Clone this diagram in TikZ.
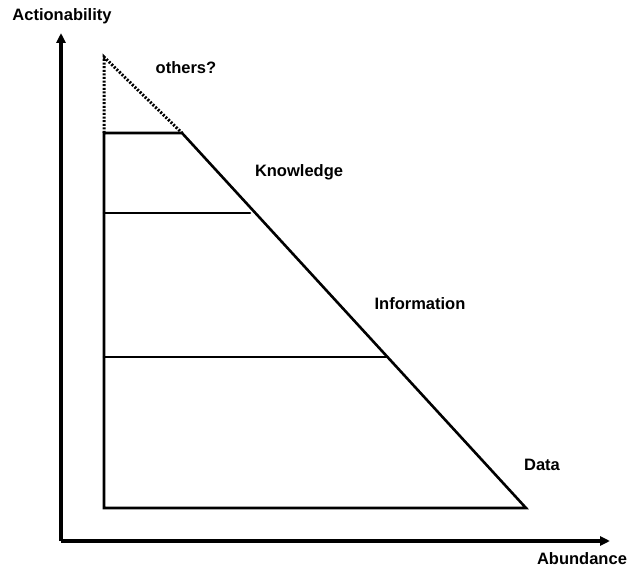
\documentclass[tikz,border=0pt]{standalone}
\usepackage{fontspec}
\setmainfont{Liberation Sans}
\usetikzlibrary{arrows.meta, positioning}

\begin{document}
\begin{tikzpicture}
  [x=1pt,y=-1pt,
   axis/.style={line width=3.6pt,-{Triangle[length=10pt,width=9pt]}},
   layer/.style={line width=2.6pt,line cap=round,line join=miter},
   guess/.style={line width=3pt,dash pattern=on 2pt off 1.6pt},
   tag/.style={font=\bfseries\fontsize{16.5}{16.5}\selectfont,inner sep=1pt}]
   \useasboundingbox (0,0) rectangle (627,569);
   % axes
   \coordinate (origin)  at (61,541);
   \coordinate (ytip)    at (61,33);
   \coordinate (xtip)    at (610,541);
   \draw[axis] (origin) -- (ytip);
   \draw[axis] (origin) -- (xtip);
   \node[tag] (actionability) at (62,16)  {Actionability};
   \node[tag] (abundance)     at (582,559) {Abundance};
   % pyramid corners
   \coordinate (apex)    at (104,57);
   \coordinate (topleft) at (104,133);
   \coordinate (topright) at (182,133);
   \coordinate (know)    at (104,213);
   \coordinate (knowend) at (250,213);
   \coordinate (info)    at (104,357);
   \coordinate (infoend) at (386,357);
   \coordinate (base)    at (104,508);
   \coordinate (baseend) at (526,508);
   \draw[layer] (topleft) -- (topright) -- (baseend) -- (base) -- cycle;
   \draw[layer] (know) -- (knowend);
   \draw[layer] (info) -- (infoend);
   \draw[guess] (topleft) -- (apex) -- (topright);
   % labels
   \node[tag] (others)      at (186,68)  {others?};
   \node[tag] (knowledge)   at (299,172) {Knowledge};
   \node[tag] (information) at (420,304) {Information};
   \node[tag] (data)        at (542,465) {Data};
\end{tikzpicture}
\end{document}
